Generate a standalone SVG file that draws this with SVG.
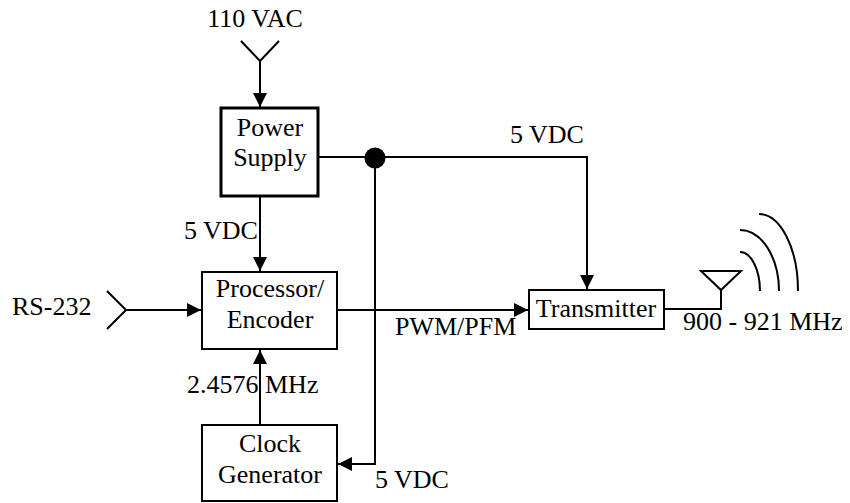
<svg xmlns="http://www.w3.org/2000/svg" width="850" height="503" viewBox="0 0 850 503">
<style>
.box{fill:#fff;stroke:#000;stroke-width:2}
.thick{stroke-width:3}
.ln{fill:none;stroke:#000;stroke-width:2}
.t{font-family:"Liberation Serif","Times New Roman",serif;font-size:26px;fill:#000}
.m{text-anchor:middle}
</style>
<defs>
<marker id="ah" markerUnits="userSpaceOnUse" markerWidth="14" markerHeight="14" viewBox="0 0 12 12" refX="12" refY="6" orient="auto">
<path d="M0,0 L12,6 L0,12 Z" fill="#000"/>
</marker>
</defs>
<rect width="850" height="503" fill="#fff"/>
<g id="connectors">
<path class="ln" d="M241,41 L260,61 L279,41"/>
<path class="ln" d="M260,61 V107" marker-end="url(#ah)"/>
<path class="ln" d="M260,197 V271" marker-end="url(#ah)"/>
<path class="ln" d="M107,291 L126,310 L107,329"/>
<path class="ln" d="M126,310 H201" marker-end="url(#ah)"/>
<path class="ln" d="M318,157 H587 V289" marker-end="url(#ah)"/>
<circle cx="375" cy="158" r="10.5" fill="#000"/>
<path class="ln" d="M375,158 V464 H338" marker-end="url(#ah)"/>
<path class="ln" d="M337,310 H528" marker-end="url(#ah)"/>
<path class="ln" d="M260,425 V350" marker-end="url(#ah)"/>
<path class="ln" d="M664,309 H721 V290"/>
<path class="ln" d="M701,271 H741 L721,290 Z"/>
<path class="ln" d="M740,252 A20,39 0 0 1 760,291"/>
<path class="ln" d="M740,230 A39,61 0 0 1 779,291"/>
<path class="ln" d="M759,214 A39,77 0 0 1 798,291"/>
</g>
<g id="power-supply">
<rect class="box thick" x="221" y="108" width="97" height="88"/>
<text class="t m" x="270" y="136">Power</text>
<text class="t m" x="270" y="166">Supply</text>
</g>
<g id="processor">
<rect class="box" x="202" y="272" width="135" height="77"/>
<text class="t m" x="270" y="297">Processor/</text>
<text class="t m" x="270" y="328">Encoder</text>
</g>
<g id="clock">
<rect class="box" x="202" y="425" width="135" height="76"/>
<text class="t m" x="270" y="452">Clock</text>
<text class="t m" x="270" y="483">Generator</text>
</g>
<g id="transmitter">
<rect class="box" x="529" y="290" width="135" height="39"/>
<text class="t m" x="596" y="317">Transmitter</text>
</g>
<g id="labels">
<text class="t m" x="255" y="27">110 VAC</text>
<text class="t" x="12" y="315">RS-232</text>
<text class="t" x="184" y="239">5 VDC</text>
<text class="t" x="510" y="143">5 VDC</text>
<text class="t" x="395" y="335">PWM/PFM</text>
<text class="t" x="187" y="393">2.4576 MHz</text>
<text class="t" x="375" y="488">5 VDC</text>
<text class="t" x="683" y="330">900 - 921 MHz</text>
</g>
</svg>
